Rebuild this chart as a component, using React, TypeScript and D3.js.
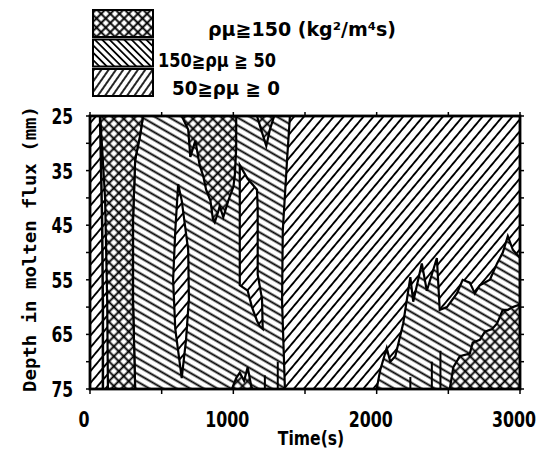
import React from "react";
import * as d3 from "d3";

type P = [number, number]; // [time (s), depth (mm)]

const TIME_TICKS = [0, 500, 1000, 1500, 2000, 2500, 3000];
const TIME_LABELS = [0, 1000, 2000, 3000];
const DEPTH_TICKS = [25, 30, 35, 40, 45, 50, 55, 60, 65, 70, 75];
const DEPTH_LABELS = [25, 35, 45, 55, 65, 75];

const LEGEND_LABELS = ["ρμ≧150 (kg²/m⁴s)", "150≧ρμ ≧ 50", "50≧ρμ ≧ 0"];

// 150 >= ρμ >= 50 regions
const MID_LEFT: P[] = [
  [370, 25], [1395, 25], [1375, 33], [1345, 46], [1340, 59], [1360, 75],
  [315, 75], [300, 59], [300, 44], [315, 33], [350, 28.5],
];
const MID_RIGHT: P[] = [
  [2000, 75], [2025, 71.5], [2070, 67.5], [2095, 70], [2130, 69], [2185, 63],
  [2235, 54.5], [2255, 59], [2315, 52], [2350, 57], [2420, 51], [2440, 60.5],
  [2490, 60], [2560, 57.5], [2600, 55], [2650, 55.5], [2685, 57.5], [2720, 56],
  [2790, 55], [2840, 52], [2880, 50], [2915, 47], [2950, 49.5], [3000, 51], [3000, 75],
];

// ρμ >= 150 regions
const HIGH_BAND: P[] = [
  [70, 25], [370, 25], [350, 28.5], [315, 33], [300, 44], [300, 59], [315, 75],
  [125, 75], [120, 59], [105, 40], [85, 31],
];
const HIGH_FAN: P[] = [
  [640, 25], [1020, 25], [1020, 31], [1010, 36], [1000, 38], [965, 40.5],
  [930, 43.5], [905, 41.5], [895, 42.5], [870, 44.5], [858, 44], [840, 40.5],
  [810, 38.5], [790, 36], [765, 34], [735, 29.5], [700, 32.5], [685, 27.5],
];
const HIGH_SMALL: P[] = [[1165, 25], [1285, 25], [1255, 27.5], [1230, 30.5], [1200, 28]];
const HIGH_BLOB: P[] = [
  [990, 75], [1020, 73], [1045, 72], [1075, 73.5], [1100, 71], [1125, 74.5], [1135, 75],
];
const HIGH_RIGHT: P[] = [
  [2510, 75], [2535, 71], [2580, 69], [2650, 68.5], [2670, 66.5], [2720, 66],
  [2755, 64.5], [2805, 64], [2840, 63], [2880, 60.5], [2915, 60.5], [2950, 60],
  [3000, 59.5], [3000, 75],
];

// 50 >= ρμ >= 0 pockets inside the middle region
const LOW_SPINDLE: P[] = [
  [615, 37.5], [640, 40.5], [685, 49.5], [690, 58.5], [670, 66], [640, 73],
  [595, 64], [580, 55], [595, 46],
];
const LOW_WEDGE: P[] = [
  [1045, 34], [1100, 36.5], [1165, 38.5], [1170, 42], [1170, 54], [1200, 58.5],
  [1205, 64], [1185, 63.5], [1165, 62.5], [1130, 60], [1100, 57], [1045, 56],
];

const DIVIDER: P[] = [[70, 25], [85, 45], [90, 60], [90, 75]];
// [time, top depth, bottom depth]
const SPIKES: [number, number, number][] = [
  [1220, 72.5, 75], [1310, 70, 75], [2235, 72.8, 75], [2385, 70, 75], [2445, 68, 75],
];

const W = 542;
const H = 453;
const x = d3.scaleLinear().domain([0, 3000]).range([90, 520]);
const y = d3.scaleLinear().domain([25, 75]).range([116, 389]);
const area = d3.line<P>().x((d) => x(d[0])).y((d) => y(d[1])).curve(d3.curveLinearClosed);
const path = d3.line<P>().x((d) => x(d[0])).y((d) => y(d[1]));

const SANS = "'DejaVu Sans', 'Liberation Sans', sans-serif";
const MONO = "'DejaVu Sans Mono', 'Liberation Mono', monospace";

function Hatch({ id, size, angle, w }: { id: string; size: number; angle: number; w: number }) {
  return (
    <pattern id={id} patternUnits="userSpaceOnUse" width={size} height={size} patternTransform={`rotate(${angle})`}>
      <rect width={size} height={size} fill="#fff" />
      <line x1={size / 2} y1={-1} x2={size / 2} y2={size + 1} stroke="#000" strokeWidth={w} />
    </pattern>
  );
}
function Cross({ id, size, w }: { id: string; size: number; w: number }) {
  return (
    <pattern id={id} patternUnits="userSpaceOnUse" width={size} height={size} patternTransform="rotate(45)">
      <rect width={size} height={size} fill="#fff" />
      <line x1={size / 2} y1={-1} x2={size / 2} y2={size + 1} stroke="#000" strokeWidth={w} />
      <line x1={-1} y1={size / 2} x2={size + 1} y2={size / 2} stroke="#000" strokeWidth={w} />
    </pattern>
  );
}

export default function App() {
  const regions: { pts: P[]; fill: string }[] = [
    { pts: MID_LEFT, fill: "url(#mid)" },
    { pts: MID_RIGHT, fill: "url(#mid)" },
    { pts: HIGH_BAND, fill: "url(#high)" },
    { pts: HIGH_FAN, fill: "url(#high)" },
    { pts: HIGH_SMALL, fill: "url(#high)" },
    { pts: HIGH_BLOB, fill: "url(#high)" },
    { pts: HIGH_RIGHT, fill: "url(#high)" },
    { pts: LOW_SPINDLE, fill: "url(#low)" },
    { pts: LOW_WEDGE, fill: "url(#low)" },
  ];
  const legendFills = ["url(#lhigh)", "url(#lmid)", "url(#llow)"];
  const legendBoxY = [10, 39.5, 69];
  const legendTextX = [208, 158, 172];
  const legendTextY = [36, 67, 95];
  const legendTextLen = [188, 118, 108];
  const [x0, x1] = x.range();
  const [y0, y1] = y.range();
  return (
    <svg width={W} height={H} style={{ position: "absolute", left: 0, top: 0, background: "#fff" }}>
      <defs>
        <Hatch id="low" size={7.6} angle={40} w={1.9} />
        <Hatch id="mid" size={6.8} angle={-60} w={1.9} />
        <Cross id="high" size={7} w={1.9} />
        <Hatch id="llow" size={6} angle={35} w={1.7} />
        <Hatch id="lmid" size={5.2} angle={-45} w={1.8} />
        <Cross id="lhigh" size={6.5} w={1.9} />
        <clipPath id="plot">
          <rect x={x0} y={y0} width={x1 - x0} height={y1 - y0} />
        </clipPath>
      </defs>

      {/* legend */}
      {LEGEND_LABELS.map((t, i) => (
        <g key={t}>
          <rect x={93} y={legendBoxY[i]} width={60} height={27} fill={legendFills[i]} stroke="#000" strokeWidth={2} />
          <text
            x={legendTextX[i]}
            y={legendTextY[i]}
            fontFamily={SANS}
            fontWeight="bold"
            fontSize={19}
            textLength={legendTextLen[i]}
            lengthAdjust="spacingAndGlyphs"
            fill="#000"
          >
            {t}
          </text>
        </g>
      ))}

      {/* plot */}
      <rect x={x0} y={y0} width={x1 - x0} height={y1 - y0} fill="url(#low)" />
      <g clipPath="url(#plot)">
        {regions.map((r, i) => (
          <path key={i} d={area(r.pts) || ""} fill={r.fill} stroke="#000" strokeWidth={2.2} strokeLinejoin="miter" />
        ))}
        <path d={path(DIVIDER) || ""} fill="none" stroke="#000" strokeWidth={2.5} />
        {SPIKES.map((s, i) => (
          <line key={i} x1={x(s[0])} x2={x(s[0])} y1={y(s[1])} y2={y(s[2])} stroke="#000" strokeWidth={2} />
        ))}
      </g>
      <rect x={x0} y={y0} width={x1 - x0} height={y1 - y0} fill="none" stroke="#000" strokeWidth={2.8} />

      {/* ticks */}
      {TIME_TICKS.map((t) => (
        <g key={t}>
          <line x1={x(t)} x2={x(t)} y1={y1} y2={y1 + 5} stroke="#000" strokeWidth={1.5} />
          <line x1={x(t)} x2={x(t)} y1={y0} y2={y0 - 4} stroke="#000" strokeWidth={1.5} />
        </g>
      ))}
      {DEPTH_TICKS.map((d) => (
        <g key={d}>
          <line x1={x0} x2={x0 - 4} y1={y(d)} y2={y(d)} stroke="#000" strokeWidth={1.5} />
          <line x1={x1} x2={x1 + 4} y1={y(d)} y2={y(d)} stroke="#000" strokeWidth={1.5} />
        </g>
      ))}
      {TIME_LABELS.map((t) => (
        <text
          key={t}
          transform={`translate(${x(t) - 6},427) scale(0.72,1)`}
          textAnchor="middle"
          fontFamily={SANS}
          fontWeight="bold"
          fontSize={22}
          fill="#000"
        >
          {t}
        </text>
      ))}
      {DEPTH_LABELS.map((d) => (
        <text
          key={d}
          transform={`translate(73,${y(d) + 8}) scale(0.74,1)`}
          textAnchor="end"
          fontFamily={SANS}
          fontWeight="bold"
          fontSize={21}
          fill="#000"
        >
          {d}
        </text>
      ))}
      <text
        transform="translate(311,445) scale(0.78,1)"
        textAnchor="middle"
        fontFamily={SANS}
        fontWeight="bold"
        fontSize={20}
        fill="#000"
      >
        Time(s)
      </text>
      <text
        transform="translate(36,249) rotate(-90)"
        textAnchor="middle"
        fontFamily={MONO}
        fontWeight="bold"
        fontSize={18}
        textLength={286}
        lengthAdjust="spacingAndGlyphs"
        fill="#000"
      >
        Depth in molten flux (mm)
      </text>
    </svg>
  );
}
